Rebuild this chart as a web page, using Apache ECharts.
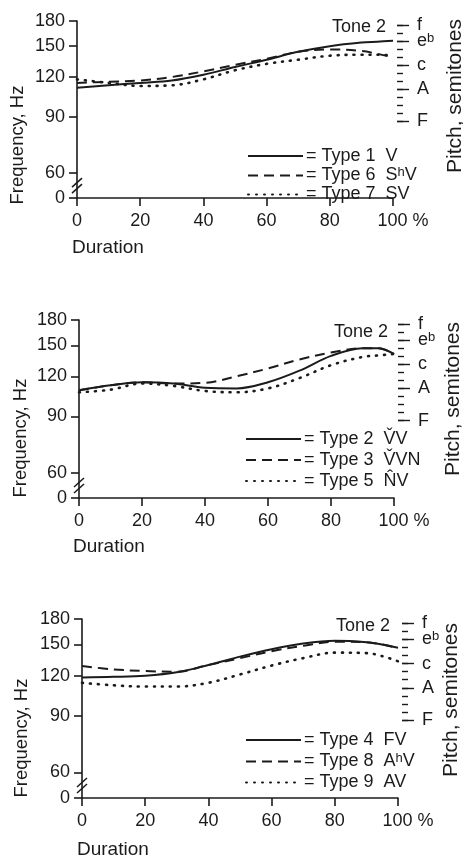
<!DOCTYPE html>
<html><head><meta charset="utf-8">
<script src="https://cdn.jsdelivr.net/npm/echarts@6/dist/echarts.min.js"></script>
<style>html,body{margin:0;padding:0;background:#fff}#c{width:463px;height:857px}</style>
</head><body><div id="c"></div>
<script>
// ---- data (Hz values) ----
const durations = [0, 10, 20, 30, 40, 50, 60, 70, 80, 90, 95, 100];
// Panel 1
const type1V   = [111, 113, 115, 117, 122, 129, 136, 144, 150, 154, 155, 156];
const type6ShV = [115, 116, 117, 120, 125, 131, 137, 144, 146.5, 145, 142, 138.5];
const type7SV  = [118, 115, 112.5, 113, 118, 126, 132, 136, 140, 141, 141, 140.5];
// Panel 2
const type2VV  = [108.5, 112.5, 115, 114, 110.5, 110, 115, 125, 139, 147, 147, 141];
const type3VVN = [108.5, 112.5, 115, 114, 114.5, 120, 127, 135.5, 142.5, 147, 147, 141];
const type5NV  = [107, 109, 114, 112, 108, 107, 110, 118.5, 130, 138, 139.5, 141];
// Panel 3
const type4FV  = [118.5, 119, 120, 123, 129.5, 137.5, 145, 151, 154, 152.5, 150, 146.5];
const type8AhV = [128.5, 125.5, 124, 123.5, 129.5, 136, 143, 148.5, 153, 152.5, 150, 146];
const type9AV  = [114, 112, 111, 111, 114, 121, 129, 136, 141.5, 141, 138, 133];

const freqTicks = [50, 60, 90, 120, 150, 180];          // 50 marks the broken "0"
const freqTickLabels = ['0', '60', '90', '120', '150', '180'];
const durationTicks = [0, 20, 40, 60, 80, 100];
const pitchHz = [87.31, 110.0, 130.81, 155.56, 174.61];
const pitchNames = ['F', 'A', 'c', 'e{sup|b}', 'f'];
const semitoneHz = [87.31, 92.50, 98.00, 103.83, 110.00, 116.54, 123.47, 130.81, 138.59, 146.83, 155.56, 164.81, 174.61];

const legendText = {
  'Type 1 V': '= Type 1  V',
  'Type 6 ShV': '= Type 6  S{sup|h}V',
  'Type 7 SV': '= Type 7  SV',
  'Type 2 V\u030CV': '= Type 2  V\u030CV',
  'Type 3 V\u030CVN': '= Type 3  V\u030CVN',
  'Type 5 N\u0302V': '= Type 5  N\u0302V',
  'Type 4 FV': '= Type 4  FV',
  'Type 8 AhV': '= Type 8  A{sup|h}V',
  'Type 9 AV': '= Type 9  AV'
};

// ---- layout ----
const FONT = 'Liberation Sans';
const INK = '#1b1b1b';
const panels = [
  { grid: {left: 77, top: 21, width: 316, height: 177},
    series: [['Type 1 V', type1V, 'solid'], ['Type 6 ShV', type6ShV, 'dashed'], ['Type 7 SV', type7SV, 'dotted']],
    legend: {left: 247, top: 147, gap: 1},
    tone: [386, 27], freqName: [18, 145], pitchName: [455, 96], durName: [72, 248] },
  { grid: {left: 79, top: 320, width: 315, height: 178},
    series: [['Type 2 V\u030CV', type2VV, 'solid'], ['Type 3 V\u030CVN', type3VVN, 'dashed'], ['Type 5 N\u0302V', type5NV, 'dotted']],
    legend: {left: 245, top: 430, gap: 3},
    tone: [388, 332], freqName: [21, 438], pitchName: [453, 399], durName: [73, 547] },
  { grid: {left: 82, top: 619, width: 316, height: 179},
    series: [['Type 4 FV', type4FV, 'solid'], ['Type 8 AhV', type8AhV, 'dashed'], ['Type 9 AV', type9AV, 'dotted']],
    legend: {left: 245, top: 731, gap: 3},
    tone: [390, 626], freqName: [22, 738], pitchName: [451, 700], durName: [77, 850] }
];

const lineTypes = {
  solid: {type: 'solid', width: 2},
  dashed: {type: [10, 6], width: 2},
  dotted: {type: [1, 7], width: 2.6, cap: 'round'}
};
const txt = {color: INK, fontFamily: FONT, fontSize: 18};
const supStyle = {fontFamily: FONT, fontSize: 13, color: INK, verticalAlign: 'top', padding: [0, 0, 6, 0]};
const AX_PER_PANEL = 4;

const option = {
  animation: false,
  backgroundColor: '#fff',
  grid: [], xAxis: [], yAxis: [], series: [], legend: [], graphic: []
};

function nearestIndex(list, v) {
  let k = 0, best = Infinity;
  list.forEach((t, j) => { const d = Math.abs(t - v); if (d < best) { best = d; k = j; } });
  return k;
}

panels.forEach((p, i) => {
  option.grid.push(Object.assign({containLabel: false}, p.grid));
  option.xAxis.push({
    type: 'value', gridIndex: i, min: 0, max: 100, interval: 20,
    axisLine: {show: true, lineStyle: {color: INK, width: 1.6}},
    axisTick: {show: true, length: 8, lineStyle: {color: INK, width: 1.6}},
    splitLine: {show: false},
    axisLabel: Object.assign({}, txt, {
      margin: 14,
      formatter: v => v === 100 ? '{p|100 %}' : String(v),
      rich: {p: Object.assign({}, txt, {padding: [0, 0, 0, 20]})}
    })
  });
  const logBase = {type: 'log', gridIndex: i, min: 50, max: 180, logBase: 10, splitLine: {show: false}, minorTick: {show: false}};
  option.yAxis.push(Object.assign({}, logBase, {
    position: 'left',
    axisLine: {show: true, lineStyle: {color: INK, width: 1.6}},
    axisTick: {show: true, length: 8, customValues: freqTicks, lineStyle: {color: INK, width: 1.6}},
    axisLabel: Object.assign({}, txt, {
      margin: 12, customValues: freqTicks, hideOverlap: false,
      formatter: v => freqTickLabels[nearestIndex(freqTicks, v)]
    })
  }));
  // all semitone ticks (short)
  option.yAxis.push(Object.assign({}, logBase, {
    position: 'right', offset: 4,
    axisLine: {show: false},
    axisTick: {show: true, inside: false, length: 6, customValues: semitoneHz, lineStyle: {color: INK, width: 1.4}},
    axisLabel: {show: false}
  }));
  // named pitches, split over two axes so neighbouring labels are both kept
  [[0, 2, 4], [1, 3]].forEach(group => {
    const vals = group.map(k => pitchHz[k]);
    option.yAxis.push(Object.assign({}, logBase, {
      position: 'right', offset: 4,
      axisLine: {show: false},
      axisTick: {show: true, inside: false, length: 12, customValues: vals, lineStyle: {color: INK, width: 1.4}},
      axisLabel: Object.assign({}, txt, {
        margin: 20, customValues: vals, hideOverlap: false,
        formatter: v => pitchNames[nearestIndex(pitchHz, v)],
        rich: {sup: supStyle}
      })
    }));
  });
  p.series.forEach(([name, vals, style]) => {
    option.series.push({
      name, type: 'line', xAxisIndex: i, yAxisIndex: i * AX_PER_PANEL,
      data: durations.map((d, j) => [d, vals[j]]),
      smooth: 0.35, symbol: 'none', showSymbol: false,
      lineStyle: Object.assign({color: INK}, lineTypes[style]),
      itemStyle: {color: INK}
    });
  });
  option.legend.push({
    orient: 'vertical', left: p.legend.left, top: p.legend.top, padding: 0,
    itemWidth: 55, itemHeight: 14, itemGap: p.legend.gap,
    data: p.series.map(s => s[0]),
    itemStyle: {color: 'rgba(0,0,0,0)', borderWidth: 0, opacity: 0},
    textStyle: Object.assign({}, txt, {padding: [0, 0, 0, -2], rich: {sup: supStyle}}),
    formatter: n => legendText[n],
    selectedMode: false
  });
  option.graphic.push(
    {type: 'text', x: p.tone[0], y: p.tone[1], style: {text: 'Tone 2', fontFamily: FONT, fontSize: 18, fill: INK, align: 'right', verticalAlign: 'middle'}},
    {type: 'text', x: p.freqName[0], y: p.freqName[1], rotation: Math.PI / 2, style: {text: 'Frequency, Hz', fontFamily: FONT, fontSize: 18.5, fill: INK, align: 'center', verticalAlign: 'middle'}},
    {type: 'text', x: p.pitchName[0], y: p.pitchName[1], rotation: Math.PI / 2, style: {text: 'Pitch, semitones', fontFamily: FONT, fontSize: 21, fill: INK, align: 'center', verticalAlign: 'middle'}},
    {type: 'text', x: p.durName[0], y: p.durName[1], style: {text: 'Duration', fontFamily: FONT, fontSize: 19, fill: INK, align: 'left', verticalAlign: 'middle'}}
  );
});

const chart = echarts.init(document.getElementById('c'));
chart.setOption(option);

// axis-break marks drawn at the library-computed position between 0 and 60
const breaks = [];
panels.forEach((p, i) => {
  const yb = chart.convertToPixel({yAxisIndex: i * AX_PER_PANEL}, 54.5);
  const xb = p.grid.left;
  breaks.push(
    {type: 'line', shape: {x1: xb - 5, y1: yb + 1, x2: xb + 5, y2: yb - 8}, style: {stroke: INK, lineWidth: 1.5}},
    {type: 'line', shape: {x1: xb - 5, y1: yb + 7, x2: xb + 5, y2: yb - 2}, style: {stroke: INK, lineWidth: 1.5}}
  );
});
chart.setOption({graphic: option.graphic.concat(breaks)});
</script>
</body></html>
